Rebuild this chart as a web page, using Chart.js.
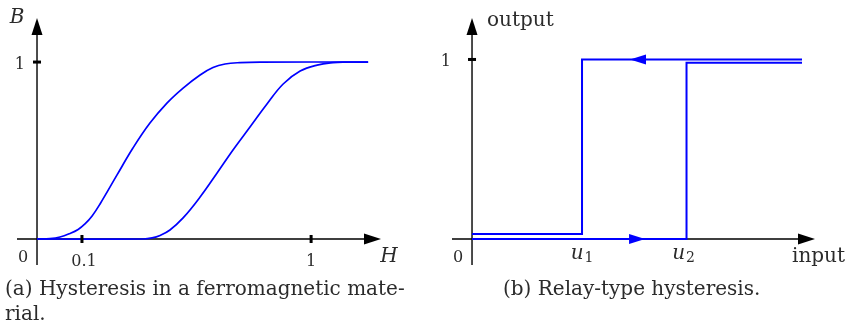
<!DOCTYPE html>
<html>
<head>
<meta charset="utf-8">
<script src="https://cdn.jsdelivr.net/npm/chart.js@4/dist/chart.umd.min.js"></script>
<style>
  html, body { margin: 0; padding: 0; background: #fff; }
  #wrap { position: relative; width: 849px; height: 333px; overflow: hidden; }
  canvas { position: absolute; top: 0; }
  #ferro { left: 0; }
  #relay { left: 425px; }
</style>
</head>
<body>
<div id="wrap">
  <canvas id="ferro" width="425" height="333"></canvas>
  <canvas id="relay" width="424" height="333"></canvas>
</div>
<script>
// ---- (a) ferromagnetic hysteresis loop: field H vs. flux density B ----
// Upper branch (left curve, H decreasing)
const upperH = [0, 0.047, 0.084, 0.12, 0.15, 0.175, 0.201, 0.23, 0.292, 0.35, 0.412, 0.474, 0.533, 0.595, 0.642, 0.686, 0.741, 0.814, 1.208];
const upperB = [0, 0.002, 0.011, 0.031, 0.054, 0.085, 0.13, 0.198, 0.362, 0.514, 0.655, 0.768, 0.853, 0.927, 0.969, 0.989, 0.997, 1.0, 1.0];
// Lower branch (right curve, H increasing)
const lowerH = [0, 0.387, 0.42, 0.449, 0.485, 0.533, 0.595, 0.657, 0.715, 0.777, 0.839, 0.898, 0.96, 1.022, 1.08, 1.124, 1.208];
const lowerB = [0, 0, 0.006, 0.02, 0.051, 0.119, 0.237, 0.373, 0.503, 0.633, 0.763, 0.876, 0.949, 0.983, 0.997, 1.0, 1.0];
const ferroXTickPos = [0.164, 1];
const ferroXTickLabels = ['0.1', '1'];
const ferroYTickPos = [1];
const ferroYTickLabels = ['1'];

// ---- (b) relay-type hysteresis: input vs. output ----
const u1 = 1, u2 = 1.95;
// Switching off: input falls from the right, drops at u1
const fallingInput  = [3.0, u1, u1, 0];
const fallingOutput = [1, 1, 0.028, 0.028];
// Switching on: input rises from 0, jumps at u2
const risingInput  = [0, u2, u2, 3.0];
const risingOutput = [0, 0, 0.982, 0.982];
// Direction markers on the two paths
const arrowInput  = [1.573, 1.436];
const arrowOutput = [0, 1];
const arrowDir    = [1, -1];
const relayXTickPos = [u1, u2];
const relayXTickLabels = [['u', '1'], ['u', '2']];
const relayYTickPos = [1];
const relayYTickLabels = ['1'];

const SERIF = '"DejaVu Serif", "Liberation Serif", serif';
const TEXT = '#2b2b2b';
const BLUE = '#0000ff';

const pts = (xs, ys) => xs.map((v, i) => ({ x: v, y: ys[i] }));

function arrowHead(ctx, tx, ty, dx, dy, len, half) {
  // tip at (tx,ty), pointing along (dx,dy)
  const bx = tx - dx * len, by = ty - dy * len;
  ctx.beginPath();
  ctx.moveTo(tx, ty);
  ctx.lineTo(bx - dy * half, by + dx * half);
  ctx.lineTo(bx + dy * half, by - dx * half);
  ctx.closePath();
  ctx.fill();
}

// Draws arrowed axes through the origin, tick marks, labels and caption
const axesPlugin = {
  id: 'arrowAxes',
  beforeDatasetsDraw(chart, args, o) {
    const { ctx, chartArea: a, scales: { x, y } } = chart;
    const ox = x.getPixelForValue(0), oy = y.getPixelForValue(0);
    ctx.save();
    ctx.strokeStyle = '#000';
    ctx.fillStyle = '#000';
    ctx.lineWidth = 1.4;
    ctx.beginPath();
    ctx.moveTo(a.left, oy); ctx.lineTo(a.right - 8, oy);
    ctx.moveTo(ox, a.bottom); ctx.lineTo(ox, a.top + 8);
    ctx.stroke();
    arrowHead(ctx, a.right, oy, 1, 0, 17, 5.5);
    arrowHead(ctx, ox, a.top, 0, -1, 17, 5.5);
    ctx.restore();
  },
  afterDatasetsDraw(chart, args, o) {
    const { ctx, scales: { x, y } } = chart;
    const ox = x.getPixelForValue(0), oy = y.getPixelForValue(0);
    ctx.save();
    ctx.fillStyle = '#000';
    // tick marks
    if (o.xTickMarks) o.xTicks.forEach(v => {
      const px = x.getPixelForValue(v);
      ctx.fillRect(px - 1.5, oy - 4, 3, 8);
    });
    o.yTicks.forEach(v => {
      const py = y.getPixelForValue(v);
      ctx.fillRect(ox - 4, py - 1.5, 8, 3);
    });
    // direction markers
    if (o.markers) {
      ctx.fillStyle = BLUE;
      o.markers.x.forEach((v, i) => {
        const px = x.getPixelForValue(v), py = y.getPixelForValue(o.markers.y[i]);
        arrowHead(ctx, px, py, o.markers.dir[i], 0, 16, 5);
      });
    }
    // labels
    ctx.fillStyle = TEXT;
    ctx.textBaseline = 'alphabetic';
    ctx.font = '16px ' + SERIF;
    ctx.textAlign = 'center';
    ctx.fillText('0', ox - 14, oy + 23);
    o.xTicks.forEach((v, i) => {
      const px = x.getPixelForValue(v) + o.xLabelShift[i];
      const lab = o.xLabels[i];
      if (Array.isArray(lab)) {
        ctx.font = 'italic 20px ' + SERIF;
        const w1 = ctx.measureText(lab[0]).width;
        ctx.font = '14px ' + SERIF;
        const w2 = ctx.measureText(lab[1]).width;
        const left = px - (w1 + w2 + 1) / 2;
        ctx.textAlign = 'left';
        ctx.font = 'italic 20px ' + SERIF;
        ctx.fillText(lab[0], left, oy + 20);
        ctx.font = '14px ' + SERIF;
        ctx.fillText(lab[1], left + w1 + 1, oy + 23);
        ctx.textAlign = 'center';
      } else {
        ctx.font = '16px ' + SERIF;
        ctx.fillText(lab, px, oy + 27);
      }
    });
    ctx.font = '16px ' + SERIF;
    ctx.textAlign = 'right';
    o.yTicks.forEach((v, i) => {
      ctx.fillText(o.yLabels[i], ox - o.yLabelGap, y.getPixelForValue(v) + o.yLabelDrop);
    });
    // axis titles
    const t = o.titles;
    ctx.font = (t.italic ? 'italic ' : '') + '20px ' + SERIF;
    ctx.textAlign = t.italic ? 'center' : 'left';
    ctx.fillText(t.y, t.yPos[0], t.yPos[1]);
    ctx.fillText(t.x, t.xPos[0], t.xPos[1]);
    // caption
    ctx.font = '20px ' + SERIF;
    ctx.textAlign = 'left';
    o.caption.forEach((line, i) => ctx.fillText(line, o.captionX, 295 + i * 25));
    ctx.restore();
  }
};

const baseOptions = (xmin, xmax, ymin, ymax, pad, pluginOpts) => ({
  responsive: false,
  animation: false,
  devicePixelRatio: 1,
  layout: { padding: pad },
  scales: {
    x: { type: 'linear', min: xmin, max: xmax, display: false },
    y: { type: 'linear', min: ymin, max: ymax, display: false }
  },
  elements: { point: { radius: 0 } },
  plugins: { legend: { display: false }, tooltip: { enabled: false }, arrowAxes: pluginOpts }
});

new Chart(document.getElementById('ferro'), {
  type: 'line',
  data: {
    datasets: [
      { data: pts(upperH, upperB), borderColor: BLUE, borderWidth: 1.7, tension: 0.4, fill: false },
      { data: pts(lowerH, lowerB), borderColor: BLUE, borderWidth: 1.7, tension: 0.4, fill: false }
    ]
  },
  options: baseOptions(-0.073, 1.255, -0.147, 1.249,
    { left: 17, right: 44, top: 18, bottom: 68 },
    {
      xTicks: ferroXTickPos, xLabels: ferroXTickLabels, xLabelShift: [2, 0], xTickMarks: true,
      yTicks: ferroYTickPos, yLabels: ferroYTickLabels, yLabelGap: 12, yLabelDrop: 7,
      titles: { italic: true, y: 'B', yPos: [17, 23], x: 'H', xPos: [389, 262] },
      caption: ['(a) Hysteresis in a ferromagnetic mate-', 'rial.'], captionX: 5
    }),
  plugins: [axesPlugin]
});

new Chart(document.getElementById('relay'), {
  type: 'line',
  data: {
    datasets: [
      { data: pts(fallingInput, fallingOutput), borderColor: BLUE, borderWidth: 2, tension: 0, fill: false },
      { data: pts(risingInput, risingOutput), borderColor: BLUE, borderWidth: 2, tension: 0, fill: false }
    ]
  },
  options: baseOptions(-0.182, 3.118, -0.145, 1.231,
    { left: 27, right: 34, top: 18, bottom: 68 },
    {
      xTicks: relayXTickPos, xLabels: relayXTickLabels, xLabelShift: [0, -3], xTickMarks: false,
      yTicks: relayYTickPos, yLabels: relayYTickLabels, yLabelGap: 21, yLabelDrop: 7,
      markers: { x: arrowInput, y: arrowOutput, dir: arrowDir },
      titles: { italic: false, y: 'output', yPos: [62, 26], x: 'input', xPos: [367, 262] },
      caption: ['(b) Relay-type hysteresis.'], captionX: 78
    }),
  plugins: [axesPlugin]
});
</script>
</body>
</html>
